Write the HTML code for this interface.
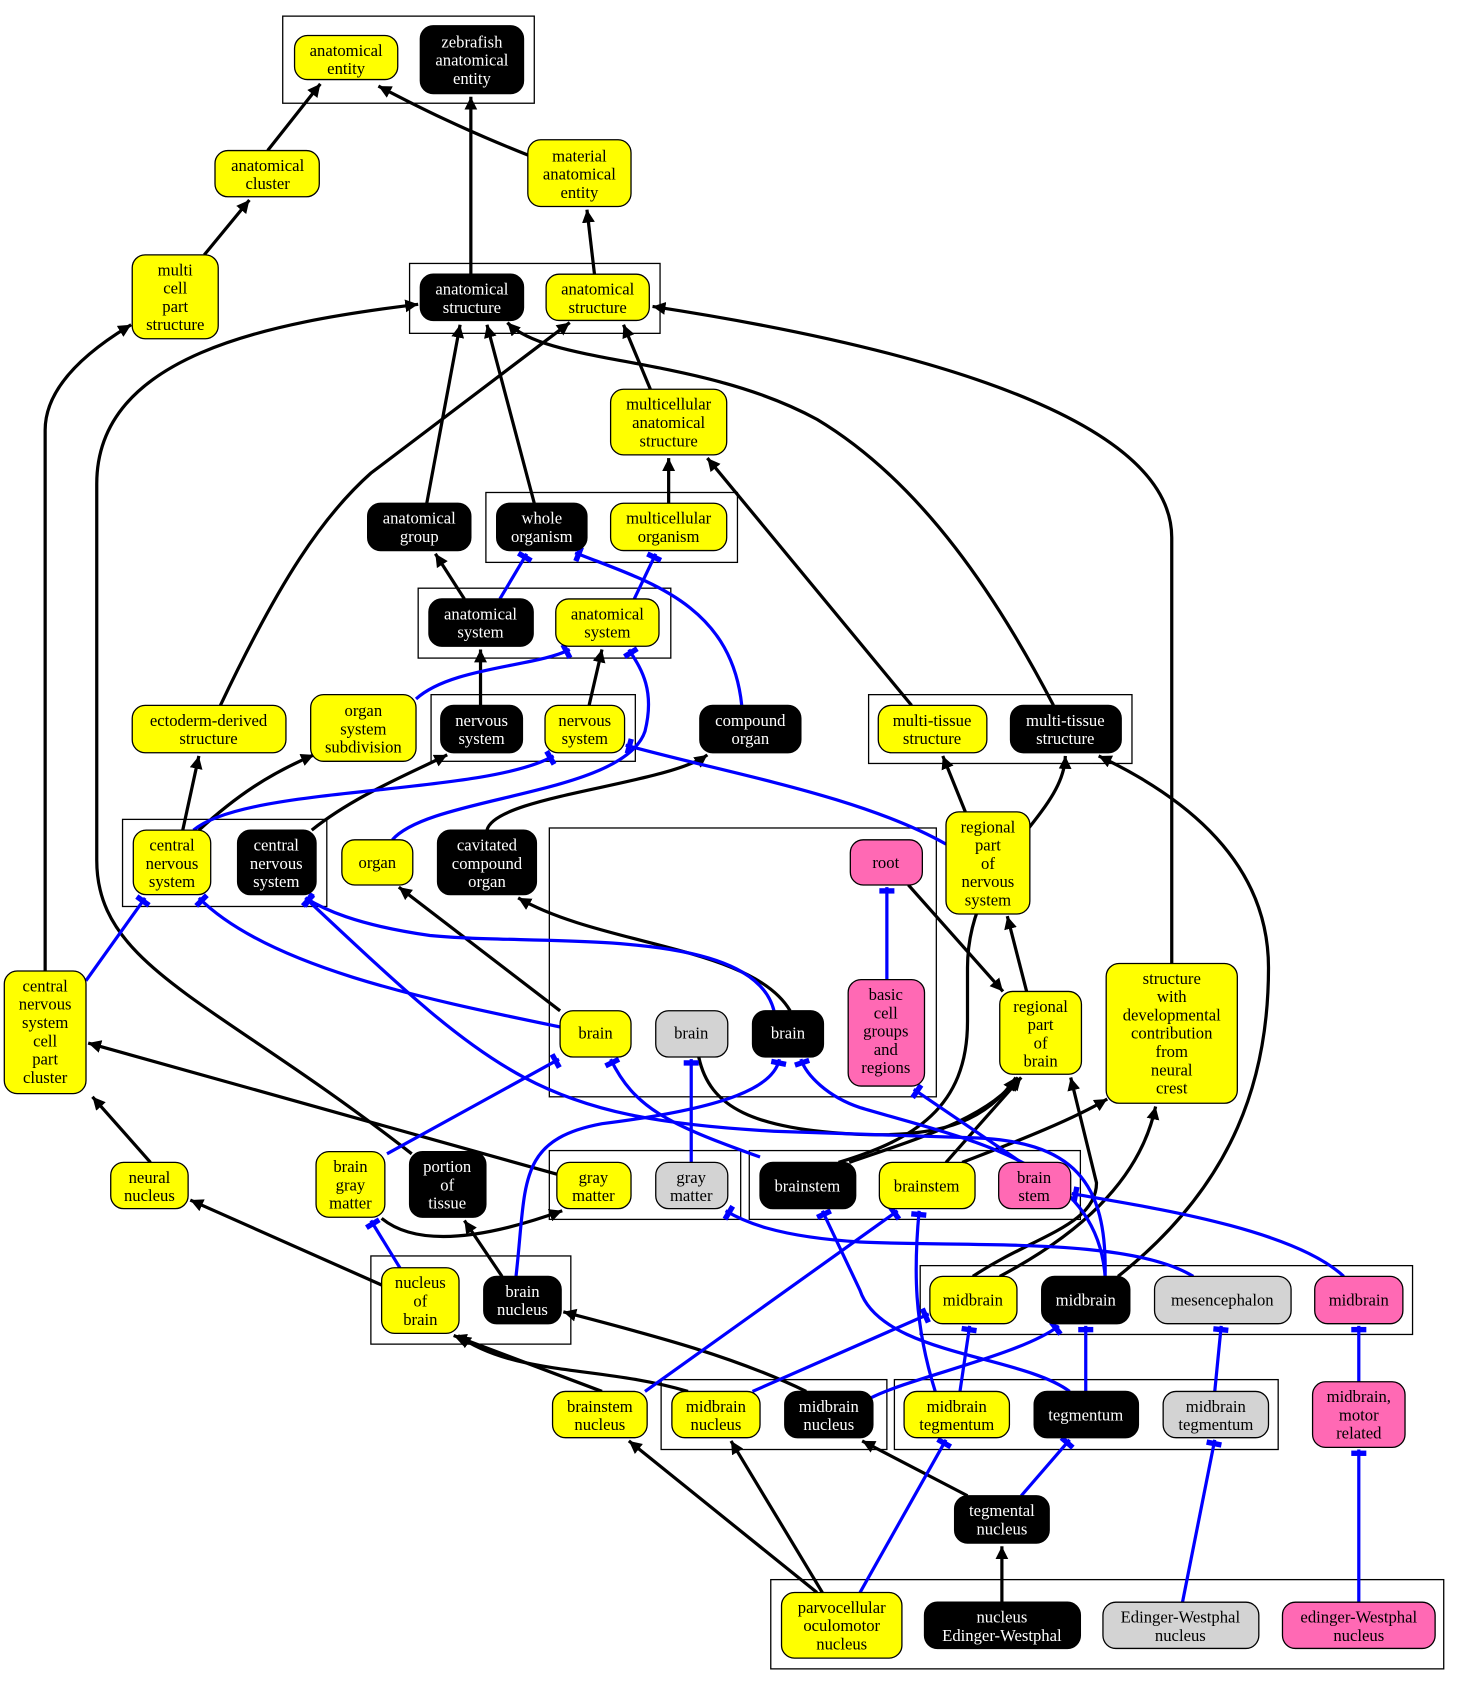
<!DOCTYPE html>
<html><head><meta charset="utf-8"><style>
html,body{margin:0;padding:0;background:#fff}
svg{display:block}
text{font-family:"Liberation Serif",serif;font-size:15.5px;text-anchor:middle}
.w{fill:#fff}
</style></head><body>
<svg width="1462" height="1685" viewBox="0 0 1360 1567" preserveAspectRatio="none" xmlns="http://www.w3.org/2000/svg">
<defs>
<marker id="a" markerUnits="userSpaceOnUse" markerWidth="14" markerHeight="14" refX="12" refY="6" orient="auto"><path d="M0,0 L12,6 L0,12 z" fill="#000"/></marker>
<marker id="t" markerUnits="userSpaceOnUse" markerWidth="8" markerHeight="16" refX="7" refY="8" orient="auto"><rect x="1" y="1" width="5" height="14" fill="#00f"/></marker>
</defs>
<g fill="none" stroke="#000" stroke-width="1.2">
<rect x="263" y="15" width="234" height="81"/>
<rect x="381" y="245" width="233" height="65"/>
<rect x="452" y="458" width="234" height="65"/>
<rect x="389" y="547" width="235" height="65"/>
<rect x="401" y="646" width="190" height="62"/>
<rect x="808" y="646" width="245" height="64"/>
<rect x="114" y="762" width="190" height="81"/>
<rect x="511" y="770" width="360" height="250"/>
<rect x="511" y="1070" width="178" height="64"/>
<rect x="697" y="1070" width="308" height="64"/>
<rect x="345" y="1168" width="186" height="82"/>
<rect x="856" y="1177" width="458" height="64"/>
<rect x="615" y="1283" width="210" height="65"/>
<rect x="832" y="1283" width="357" height="65"/>
<rect x="717" y="1469" width="626" height="83"/>
</g>
<g fill="none" stroke="#000" stroke-width="3" marker-end="url(#a)">
<path d="M249,140 L298,78"/>
<path d="M493,145 C430,120 390,100 352,80"/>
<path d="M438,255 L438,90"/>
<path d="M553,255 L546,195"/>
<path d="M190,237 L232,186"/>
<path d="M42,903 L42,400 Q42,350 122,302"/>
<path d="M383,1073 C200,930 90,900 90,800 L90,450 C90,330 250,300 389,283"/>
<path d="M397,468 L428,302"/>
<path d="M497,468 L453,302"/>
<path d="M205,656 C260,540 300,480 345,440 L530,300"/>
<path d="M605,362 L580,302"/>
<path d="M980,656 C930,560 860,450 760,390 C650,330 510,340 472,300"/>
<path d="M1090,896 L1090,500 C1090,400 900,330 607,285"/>
<path d="M622,468 L622,426"/>
<path d="M848,656 L658,426"/>
<path d="M432,557 L405,515"/>
<path d="M447,656 L447,604"/>
<path d="M548,656 L560,604"/>
<path d="M170,772 L185,703"/>
<path d="M185,772 C220,740 250,720 292,702"/>
<path d="M290,772 C330,740 380,720 416,702"/>
<path d="M453,772 C460,740 620,730 658,702"/>
<path d="M898,755 L877,703"/>
<path d="M521,940 L371,825"/>
<path d="M735,940 C700,880 560,880 482,835"/>
<path d="M845,823 L933,922"/>
<path d="M955,922 L937,852"/>
<path d="M780,1081 C850,1060 900,1030 900,950 L900,900 C900,800 990,760 991,703"/>
<path d="M1040,1187 C1150,1100 1180,1000 1180,900 C1180,800 1100,740 1022,703"/>
<path d="M650,983 C660,1030 700,1050 800,1055 C880,1058 920,1040 945,1002"/>
<path d="M880,1081 L950,1002"/>
<path d="M790,1081 C850,1060 920,1040 947,1002"/>
<path d="M895,1081 C950,1060 1000,1040 1030,1022"/>
<path d="M905,1187 C960,1150 1020,1140 1020,1100 L996,1002"/>
<path d="M930,1187 C1000,1150 1060,1100 1075,1029"/>
<path d="M140,1081 L86,1020"/>
<path d="M518,1092 L82,970"/>
<path d="M355,1195 L177,1116"/>
<path d="M355,1133 Q400,1170 523,1126"/>
<path d="M467,1187 L432,1135"/>
<path d="M560,1294 L422,1242"/>
<path d="M640,1294 C560,1270 480,1280 426,1242"/>
<path d="M750,1294 C680,1260 600,1240 524,1220"/>
<path d="M900,1391 L802,1340"/>
<path d="M760,1481 L585,1340"/>
<path d="M765,1481 L680,1340"/>
<path d="M932,1490 L932,1438"/>
</g>
<g fill="none" stroke="#00f" stroke-width="3" marker-end="url(#t)">
<path d="M465,557 L490,515"/>
<path d="M590,557 L610,515"/>
<path d="M690,656 C680,560 600,540 535,514"/>
<path d="M387,650 C420,620 500,620 530,604"/>
<path d="M365,781 C400,740 580,740 600,680 C610,640 595,620 585,604"/>
<path d="M180,772 C230,730 450,740 515,703"/>
<path d="M880,785 C800,740 680,720 582,693"/>
<path d="M80,912 L135,835"/>
<path d="M521,955 C400,930 250,900 185,835"/>
<path d="M720,940 C700,860 500,880 400,870 C330,860 300,845 284,835"/>
<path d="M825,911 L825,825"/>
<path d="M950,1081 L850,1013"/>
<path d="M1028,1187 C1030,1100 1000,1060 900,1058 L720,1052 C500,1040 460,1000 284,835"/>
<path d="M707,1076 C620,1045 590,1030 568,985"/>
<path d="M360,1073 L520,985"/>
<path d="M643,1081 L643,985"/>
<path d="M480,1187 C490,1100 480,1060 560,1045 C680,1030 720,1010 725,985"/>
<path d="M1028,1187 C1020,1080 900,1060 800,1030 C770,1020 750,1000 745,985"/>
<path d="M372,1179 L345,1135"/>
<path d="M1110,1187 C1050,1150 900,1160 800,1155 C720,1150 690,1135 675,1126"/>
<path d="M1250,1187 C1200,1140 1050,1120 997,1110"/>
<path d="M600,1294 L835,1126"/>
<path d="M870,1294 C850,1230 850,1180 855,1126"/>
<path d="M995,1294 C950,1260 820,1260 800,1200 L765,1126"/>
<path d="M700,1294 L864,1222"/>
<path d="M810,1300 C850,1280 950,1260 985,1233"/>
<path d="M893,1294 L902,1233"/>
<path d="M1010,1294 L1010,1233"/>
<path d="M1130,1294 L1136,1233"/>
<path d="M1264,1285 L1264,1233"/>
<path d="M950,1391 L995,1339"/>
<path d="M800,1481 L880,1339"/>
<path d="M1100,1490 L1130,1339"/>
<path d="M1264,1490 L1264,1348"/>
</g>
<g stroke="#000" stroke-width="1.2">
<rect x="274" y="33" width="96" height="41" rx="12" fill="#ff0"/>
<rect x="391" y="24" width="96" height="63" rx="12" fill="#000"/>
<rect x="200" y="140" width="97" height="43" rx="12" fill="#ff0"/>
<rect x="491" y="130" width="96" height="62" rx="12" fill="#ff0"/>
<rect x="123" y="237" width="80" height="78" rx="12" fill="#ff0"/>
<rect x="391" y="255" width="96" height="43" rx="12" fill="#000"/>
<rect x="508" y="255" width="96" height="43" rx="12" fill="#ff0"/>
<rect x="568" y="362" width="108" height="61" rx="12" fill="#ff0"/>
<rect x="342" y="468" width="96" height="44" rx="12" fill="#000"/>
<rect x="462" y="468" width="84" height="44" rx="12" fill="#000"/>
<rect x="568" y="468" width="108" height="44" rx="12" fill="#ff0"/>
<rect x="399" y="557" width="97" height="44" rx="12" fill="#000"/>
<rect x="517" y="557" width="96" height="44" rx="12" fill="#ff0"/>
<rect x="123" y="656" width="143" height="44" rx="12" fill="#ff0"/>
<rect x="289" y="646" width="98" height="62" rx="12" fill="#ff0"/>
<rect x="410" y="656" width="76" height="44" rx="12" fill="#000"/>
<rect x="507" y="656" width="74" height="44" rx="12" fill="#ff0"/>
<rect x="651" y="656" width="94" height="44" rx="12" fill="#000"/>
<rect x="817" y="656" width="101" height="44" rx="12" fill="#ff0"/>
<rect x="940" y="656" width="103" height="44" rx="12" fill="#000"/>
<rect x="124" y="772" width="72" height="60" rx="12" fill="#ff0"/>
<rect x="221" y="772" width="73" height="60" rx="12" fill="#000"/>
<rect x="318" y="781" width="66" height="42" rx="12" fill="#ff0"/>
<rect x="407" y="772" width="92" height="60" rx="12" fill="#000"/>
<rect x="791" y="781" width="67" height="42" rx="12" fill="#ff69b4"/>
<rect x="880" y="755" width="78" height="95" rx="12" fill="#ff0"/>
<rect x="789" y="911" width="71" height="99" rx="12" fill="#ff69b4"/>
<rect x="1029" y="896" width="122" height="130" rx="12" fill="#ff0"/>
<rect x="930" y="922" width="76" height="77" rx="12" fill="#ff0"/>
<rect x="4" y="903" width="76" height="114" rx="12" fill="#ff0"/>
<rect x="521" y="940" width="66" height="43" rx="12" fill="#ff0"/>
<rect x="610" y="940" width="67" height="43" rx="12" fill="#d3d3d3"/>
<rect x="700" y="940" width="66" height="43" rx="12" fill="#000"/>
<rect x="103" y="1081" width="72" height="43" rx="12" fill="#ff0"/>
<rect x="294" y="1071" width="64" height="61" rx="12" fill="#ff0"/>
<rect x="381" y="1071" width="71" height="61" rx="12" fill="#000"/>
<rect x="518" y="1081" width="69" height="43" rx="12" fill="#ff0"/>
<rect x="610" y="1081" width="67" height="43" rx="12" fill="#d3d3d3"/>
<rect x="707" y="1081" width="89" height="43" rx="12" fill="#000"/>
<rect x="818" y="1081" width="89" height="43" rx="12" fill="#ff0"/>
<rect x="929" y="1081" width="67" height="43" rx="12" fill="#ff69b4"/>
<rect x="355" y="1179" width="72" height="61" rx="12" fill="#ff0"/>
<rect x="450" y="1187" width="72" height="44" rx="12" fill="#000"/>
<rect x="865" y="1187" width="81" height="44" rx="12" fill="#ff0"/>
<rect x="969" y="1187" width="82" height="44" rx="12" fill="#000"/>
<rect x="1074" y="1187" width="127" height="44" rx="12" fill="#d3d3d3"/>
<rect x="1223" y="1187" width="82" height="44" rx="12" fill="#ff69b4"/>
<rect x="514" y="1294" width="88" height="43" rx="12" fill="#ff0"/>
<rect x="625" y="1294" width="82" height="43" rx="12" fill="#ff0"/>
<rect x="730" y="1294" width="82" height="43" rx="12" fill="#000"/>
<rect x="841" y="1294" width="98" height="43" rx="12" fill="#ff0"/>
<rect x="962" y="1294" width="97" height="43" rx="12" fill="#000"/>
<rect x="1082" y="1294" width="98" height="43" rx="12" fill="#d3d3d3"/>
<rect x="1221" y="1285" width="86" height="61" rx="12" fill="#ff69b4"/>
<rect x="888" y="1391" width="88" height="44" rx="12" fill="#000"/>
<rect x="727" y="1481" width="112" height="61" rx="12" fill="#ff0"/>
<rect x="860" y="1490" width="145" height="43" rx="12" fill="#000"/>
<rect x="1026" y="1490" width="145" height="43" rx="12" fill="#d3d3d3"/>
<rect x="1193" y="1490" width="142" height="43" rx="12" fill="#ff69b4"/>
</g>
<g>
<text x="322" y="52">anatomical<tspan x="322" dy="17">entity</tspan></text>
<text class="w" x="439" y="44">zebrafish<tspan x="439" dy="17">anatomical</tspan><tspan x="439" dy="17">entity</tspan></text>
<text x="249" y="159">anatomical<tspan x="249" dy="17">cluster</tspan></text>
<text x="539" y="150">material<tspan x="539" dy="17">anatomical</tspan><tspan x="539" dy="17">entity</tspan></text>
<text x="163" y="256">multi<tspan x="163" dy="17">cell</tspan><tspan x="163" dy="17">part</tspan><tspan x="163" dy="17">structure</tspan></text>
<text class="w" x="439" y="274">anatomical<tspan x="439" dy="17">structure</tspan></text>
<text x="556" y="274">anatomical<tspan x="556" dy="17">structure</tspan></text>
<text x="622" y="381">multicellular<tspan x="622" dy="17">anatomical</tspan><tspan x="622" dy="17">structure</tspan></text>
<text class="w" x="390" y="487">anatomical<tspan x="390" dy="17">group</tspan></text>
<text class="w" x="504" y="487">whole<tspan x="504" dy="17">organism</tspan></text>
<text x="622" y="487">multicellular<tspan x="622" dy="17">organism</tspan></text>
<text class="w" x="447" y="576">anatomical<tspan x="447" dy="17">system</tspan></text>
<text x="565" y="576">anatomical<tspan x="565" dy="17">system</tspan></text>
<text x="194" y="675">ectoderm-derived<tspan x="194" dy="17">structure</tspan></text>
<text x="338" y="666">organ<tspan x="338" dy="17">system</tspan><tspan x="338" dy="17">subdivision</tspan></text>
<text class="w" x="448" y="675">nervous<tspan x="448" dy="17">system</tspan></text>
<text x="544" y="675">nervous<tspan x="544" dy="17">system</tspan></text>
<text class="w" x="698" y="675">compound<tspan x="698" dy="17">organ</tspan></text>
<text x="867" y="675">multi-tissue<tspan x="867" dy="17">structure</tspan></text>
<text class="w" x="991" y="675">multi-tissue<tspan x="991" dy="17">structure</tspan></text>
<text x="160" y="791">central<tspan x="160" dy="17">nervous</tspan><tspan x="160" dy="17">system</tspan></text>
<text class="w" x="257" y="791">central<tspan x="257" dy="17">nervous</tspan><tspan x="257" dy="17">system</tspan></text>
<text x="351" y="807">organ</text>
<text class="w" x="453" y="791">cavitated<tspan x="453" dy="17">compound</tspan><tspan x="453" dy="17">organ</tspan></text>
<text x="824" y="807">root</text>
<text x="919" y="774">regional<tspan x="919" dy="17">part</tspan><tspan x="919" dy="17">of</tspan><tspan x="919" dy="17">nervous</tspan><tspan x="919" dy="17">system</tspan></text>
<text x="824" y="930">basic<tspan x="824" dy="17">cell</tspan><tspan x="824" dy="17">groups</tspan><tspan x="824" dy="17">and</tspan><tspan x="824" dy="17">regions</tspan></text>
<text x="1090" y="915">structure<tspan x="1090" dy="17">with</tspan><tspan x="1090" dy="17">developmental</tspan><tspan x="1090" dy="17">contribution</tspan><tspan x="1090" dy="17">from</tspan><tspan x="1090" dy="17">neural</tspan><tspan x="1090" dy="17">crest</tspan></text>
<text x="968" y="941">regional<tspan x="968" dy="17">part</tspan><tspan x="968" dy="17">of</tspan><tspan x="968" dy="17">brain</tspan></text>
<text x="42" y="922">central<tspan x="42" dy="17">nervous</tspan><tspan x="42" dy="17">system</tspan><tspan x="42" dy="17">cell</tspan><tspan x="42" dy="17">part</tspan><tspan x="42" dy="17">cluster</tspan></text>
<text x="554" y="966">brain</text>
<text x="643" y="966">brain</text>
<text class="w" x="733" y="966">brain</text>
<text x="139" y="1100">neural<tspan x="139" dy="17">nucleus</tspan></text>
<text x="326" y="1090">brain<tspan x="326" dy="17">gray</tspan><tspan x="326" dy="17">matter</tspan></text>
<text class="w" x="416" y="1090">portion<tspan x="416" dy="17">of</tspan><tspan x="416" dy="17">tissue</tspan></text>
<text x="552" y="1100">gray<tspan x="552" dy="17">matter</tspan></text>
<text x="643" y="1100">gray<tspan x="643" dy="17">matter</tspan></text>
<text class="w" x="751" y="1108">brainstem</text>
<text x="862" y="1108">brainstem</text>
<text x="962" y="1100">brain<tspan x="962" dy="17">stem</tspan></text>
<text x="391" y="1198">nucleus<tspan x="391" dy="17">of</tspan><tspan x="391" dy="17">brain</tspan></text>
<text class="w" x="486" y="1206">brain<tspan x="486" dy="17">nucleus</tspan></text>
<text x="905" y="1214">midbrain</text>
<text class="w" x="1010" y="1214">midbrain</text>
<text x="1137" y="1214">mesencephalon</text>
<text x="1264" y="1214">midbrain</text>
<text x="558" y="1313">brainstem<tspan x="558" dy="17">nucleus</tspan></text>
<text x="666" y="1313">midbrain<tspan x="666" dy="17">nucleus</tspan></text>
<text class="w" x="771" y="1313">midbrain<tspan x="771" dy="17">nucleus</tspan></text>
<text x="890" y="1313">midbrain<tspan x="890" dy="17">tegmentum</tspan></text>
<text class="w" x="1010" y="1321">tegmentum</text>
<text x="1131" y="1313">midbrain<tspan x="1131" dy="17">tegmentum</tspan></text>
<text x="1264" y="1304">midbrain,<tspan x="1264" dy="17">motor</tspan><tspan x="1264" dy="17">related</tspan></text>
<text class="w" x="932" y="1410">tegmental<tspan x="932" dy="17">nucleus</tspan></text>
<text x="783" y="1500">parvocellular<tspan x="783" dy="17">oculomotor</tspan><tspan x="783" dy="17">nucleus</tspan></text>
<text class="w" x="932" y="1509">nucleus<tspan x="932" dy="17">Edinger-Westphal</tspan></text>
<text x="1098" y="1509">Edinger-Westphal<tspan x="1098" dy="17">nucleus</tspan></text>
<text x="1264" y="1509">edinger-Westphal<tspan x="1264" dy="17">nucleus</tspan></text>
</g>
</svg>
</body></html>
